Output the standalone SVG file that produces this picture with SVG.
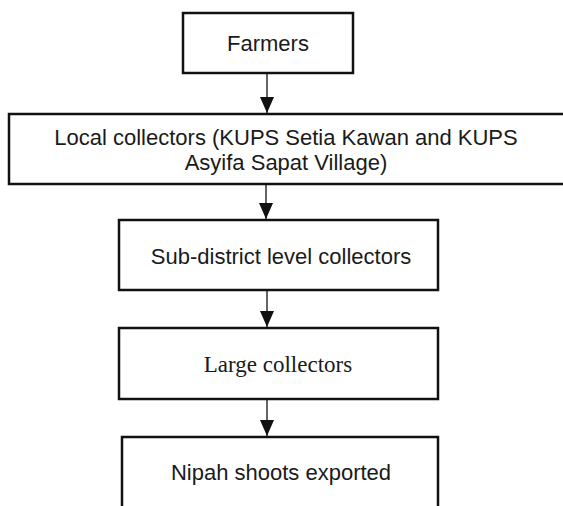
<svg xmlns="http://www.w3.org/2000/svg" width="563" height="506" viewBox="0 0 563 506">
<defs>
<style>
.box{fill:#fff;stroke:#111;stroke-width:2.5}
.t{font-family:"Liberation Sans",Arial,sans-serif;font-size:22px;fill:#1a1a1a;text-anchor:middle}
.s{font-family:"Liberation Serif","Times New Roman",serif;font-size:23px;fill:#1a1a1a;text-anchor:middle}
.c{stroke:#111;stroke-width:1.3;fill:none;marker-end:url(#ah)}
</style>
<marker id="ah" markerUnits="userSpaceOnUse" markerWidth="16" markerHeight="14" viewBox="0 0 16 14" refX="16" refY="7" orient="auto">
<path d="M0,0 L16,7 L0,14 Z" fill="#111"/>
</marker>
</defs>
<rect width="563" height="506" fill="#fff"/>
<g id="connectors">
<line class="c" x1="267" y1="74" x2="267" y2="113"/>
<line class="c" x1="266" y1="185" x2="266" y2="219"/>
<line class="c" x1="267" y1="291" x2="267" y2="327"/>
<line class="c" x1="267" y1="400" x2="267" y2="436"/>
</g>
<g id="farmers">
<rect class="box" x="183" y="13" width="170" height="60"/>
<text class="t" x="268" y="51">Farmers</text>
</g>
<g id="local-collectors">
<rect class="box" x="9" y="114" width="560" height="70"/>
<text class="t" x="286" y="145">Local collectors (KUPS Setia Kawan and KUPS</text>
<text class="t" x="286" y="170">Asyifa Sapat Village)</text>
</g>
<g id="sub-district">
<rect class="box" x="119" y="220" width="319" height="70"/>
<text class="t" x="281" y="264">Sub-district level collectors</text>
</g>
<g id="large-collectors">
<rect class="box" x="119" y="328" width="319" height="71"/>
<text class="s" x="278" y="372">Large collectors</text>
</g>
<g id="nipah-exported">
<rect class="box" x="122" y="437" width="316" height="80"/>
<text class="t" x="281" y="480">Nipah shoots exported</text>
</g>
</svg>
